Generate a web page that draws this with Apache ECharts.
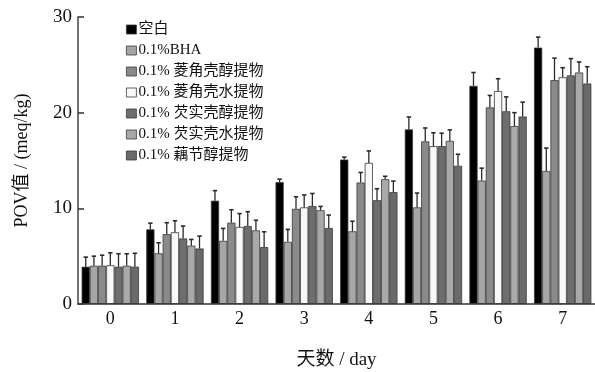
<!DOCTYPE html>
<html><head><meta charset="utf-8">
<script src="https://cdn.jsdelivr.net/npm/echarts@6/dist/echarts.min.js"></script>
<style>html,body{margin:0;padding:0;background:#fff}#c{width:595px;height:372px}</style>
</head><body><div id="c"></div>
<script>
const days = ['0','1','2','3','4','5','6','7'];
const seriesNames = ['空白','0.1%BHA','0.1% 菱角壳醇提物','0.1% 菱角壳水提物','0.1% 芡实壳醇提物','0.1% 芡实壳水提物','0.1% 藕节醇提物'];
const colors = ['#000000','#a6a6a6','#8a8a8a','#f8f8f8','#6e6e6e','#a9a9a9','#6a6a6a'];
// mean values per series (days 0..7)
const blank   = [3.9, 7.8, 10.8, 12.75, 15.1, 18.25, 22.8, 26.8];
const bha     = [4.0, 5.3, 6.6, 6.5, 7.6, 10.1, 12.9, 13.9];
const lingEth = [4.0, 7.3, 8.5, 9.95, 12.7, 17.0, 20.55, 23.4];
const lingWat = [4.05, 7.5, 8.05, 10.1, 14.75, 16.5, 22.25, 23.7];
const qianEth = [3.9, 6.85, 8.15, 10.25, 10.85, 16.5, 20.15, 23.9];
const qianWat = [4.0, 6.1, 7.7, 9.8, 13.05, 17.05, 18.6, 24.2];
const oujie   = [3.9, 5.8, 5.95, 7.95, 11.7, 14.45, 19.6, 23.05];
// error (upper) values
const blankErr   = [1.0, 0.65, 1.05, 0.3, 0.25, 1.3, 1.4, 1.1];
const bhaErr     = [1.0, 1.1, 1.3, 1.3, 1.05, 1.5, 1.3, 2.4];
const lingEthErr = [1.1, 1.2, 1.35, 1.25, 1.05, 1.4, 1.25, 2.3];
const lingWatErr = [1.3, 1.2, 1.4, 1.3, 1.25, 1.4, 1.3, 1.0];
const qianEthErr = [1.35, 1.3, 1.5, 1.3, 1.2, 1.35, 1.5, 1.75];
const qianWatErr = [1.25, 0.65, 1.05, 0.4, 0.3, 1.15, 1.4, 1.1];
const oujieErr   = [1.4, 1.3, 1.6, 1.35, 1.15, 1.2, 1.5, 1.75];

const values = [blank, bha, lingEth, lingWat, qianEth, qianWat, oujie];
const errors = [blankErr, bhaErr, lingEthErr, lingWatErr, qianEthErr, qianWatErr, oujieErr];
const GAP = 0.113;
const N = values.length;

const errData = [];
values.forEach((arr, si) => arr.forEach((v, ci) => errData.push([ci, si, v, errors[si][ci]])));

const font = '"Liberation Serif","Times New Roman","Noto Sans CJK SC",serif';
const series = values.map((arr, i) => ({
  name: seriesNames[i], type: 'bar', data: arr,
  barGap: '0%', barCategoryGap: (GAP*100)+'%',
  itemStyle: {color: colors[i], borderColor: '#3a3a3a', borderWidth: 0.8},
  z: 2
}));
series.push({
  type: 'custom', z: 3, data: errData, silent: true,
  renderItem: function (params, api) {
    const ci = api.value(0), si = api.value(1), v = api.value(2), e = api.value(3);
    const cx0 = api.coord([ci, 0])[0];
    const band = api.size([1, 0])[0];
    const gw = band * (1 - GAP);
    const bw = gw / N;
    const cx = cx0 - gw / 2 + si * bw + bw / 2;
    const y1 = api.coord([ci, v])[1];
    const y2 = api.coord([ci, v + e])[1];
    const st = {stroke: '#2a2a2a', lineWidth: 1.3};
    return {type: 'group', children: [
      {type: 'line', shape: {x1: cx, y1: y1, x2: cx, y2: y2}, style: st},
      {type: 'line', shape: {x1: cx - 2.2, y1: y2, x2: cx + 2.2, y2: y2}, style: {stroke: '#2a2a2a', lineWidth: 1.6}}
    ]};
  }
});

const chart = echarts.init(document.getElementById('c'), null, {renderer: 'canvas'});
chart.setOption({
  animation: false,
  backgroundColor: '#fff',
  textStyle: {fontFamily: font},
  grid: {left: 78, right: 0, top: 17, bottom: 68, containLabel: false, outerBoundsMode: 'none'},
  legend: {
    orient: 'vertical', left: 121, top: 17, itemWidth: 10, itemHeight: 9, itemGap: 6,
    icon: 'rect', data: seriesNames,
    itemStyle: {borderColor: '#3a3a3a', borderWidth: 0.8},
    textStyle: {fontFamily: font, fontSize: 15, color: '#111', padding: [0,0,0,-3]}
  },
  xAxis: {
    type: 'category', data: days, z: 10,
    name: '天数 / day', nameLocation: 'middle', nameGap: 47,
    nameTextStyle: {fontFamily: font, fontSize: 19, color: '#111'},
    axisLine: {lineStyle: {color: '#333', width: 1.5}},
    axisTick: {inside: true, alignWithLabel: true, length: 5, lineStyle: {color: '#222', width: 1.2}},
    axisLabel: {fontFamily: font, fontSize: 18, color: '#111', margin: 6}
  },
  yAxis: {
    type: 'value', min: 0, max: 30, interval: 10,
    name: 'POV值 / (meq/kg)', nameLocation: 'middle', nameGap: 47, nameRotate: 90,
    nameTextStyle: {fontFamily: font, fontSize: 18, color: '#111'},
    axisLine: {show: true, lineStyle: {color: '#444', width: 1.5}},
    axisTick: {show: true, inside: true, length: 6, lineStyle: {color: '#333', width: 1.5}},
    axisLabel: {fontFamily: font, fontSize: 19, color: '#111', margin: 6},
    splitLine: {show: false}
  },
  series: series
});
</script></body></html>
